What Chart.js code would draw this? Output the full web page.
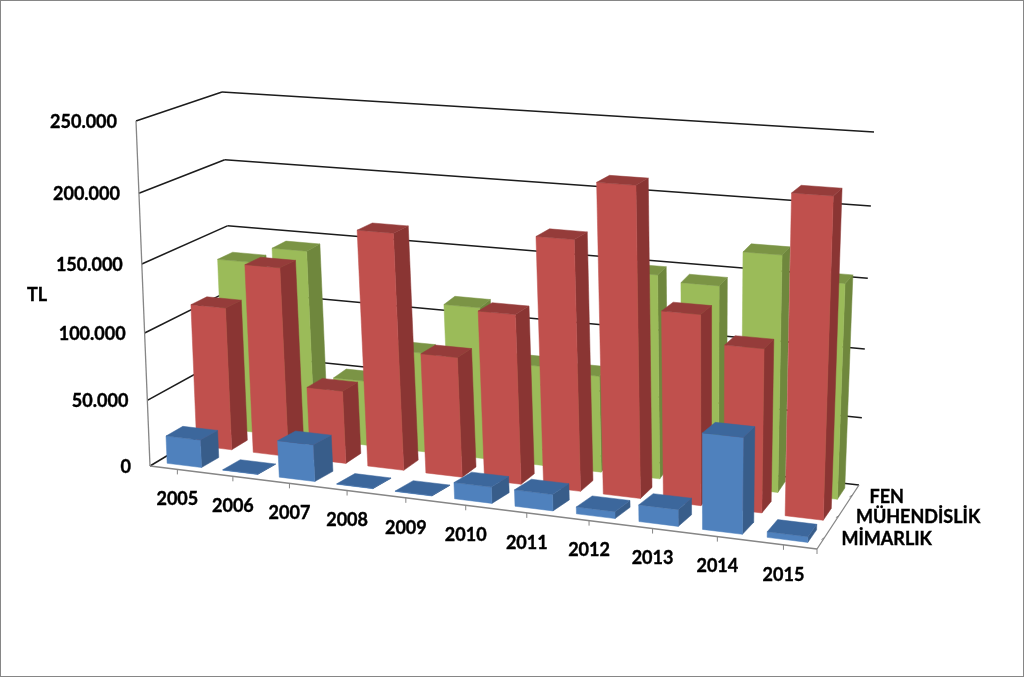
<!DOCTYPE html>
<html>
<head>
<meta charset="utf-8">
<title>TL</title>
<script src="https://cdn.jsdelivr.net/npm/chart.js@4/dist/chart.umd.min.js"></script>
<style>
  html, body { margin: 0; padding: 0; background: #fff; }
  canvas { display: block; }
</style>
</head>
<body>
<canvas id="chart" width="1024" height="677"></canvas>
<script>
const years = ['2005', '2006', '2007', '2008', '2009', '2010', '2011', '2012', '2013', '2014', '2015'];
const seriesNames = ['MİMARLIK', 'MÜHENDİSLİK', 'FEN'];
const mimarlik = [21000, 300, 27500, 300, 300, 12000, 12000, 5000, 12000, 68000, 4000];
const muhendislik = [108500, 142000, 55000, 174000, 89000, 124000, 180000, 220000, 136000, 116500, 222500];
const fen = [132500, 144500, 50000, 76000, 114000, 75000, 72000, 149000, 145000, 170000, 154000];
const axisTitle = 'TL';

// corners of the 3D box on screen: front-left, front-right, back-right, back-left
const floorQuad = [[150, 466], [817, 549], [859, 485], [235, 415]];
const topQuad = [[136, 121], [828, 171], [874, 132], [222, 92]];

const faceColors = [
    { front: '#4f81bd', side: '#385d8a', top: '#3c679c' },
    { front: '#c0504d', side: '#8a3533', top: '#953c3a' },
    { front: '#9bbb59', side: '#6f873d', top: '#7b9445' }
];
const barDepth = 0.56;

function homography(q) {
    const [x0, y0] = q[0], [x1, y1] = q[1], [x2, y2] = q[2], [x3, y3] = q[3];
    const sx = x0 - x1 + x2 - x3, sy = y0 - y1 + y2 - y3;
    const dx1 = x1 - x2, dx2 = x3 - x2, dy1 = y1 - y2, dy2 = y3 - y2;
    const den = dx1 * dy2 - dx2 * dy1;
    const g = (sx * dy2 - dx2 * sy) / den;
    const h = (dx1 * sy - sx * dy1) / den;
    const a = x1 - x0 + g * x1, b = x3 - x0 + h * x3;
    const d = y1 - y0 + g * y1, e = y3 - y0 + h * y3;
    return (u, w) => {
        const k = g * u + h * w + 1;
        return [(a * u + b * w + x0) / k, (d * u + e * w + y0) / k];
    };
}
const floorAt = homography(floorQuad);
const topAt = homography(topQuad);

// u = along years, v = height, w = depth, all 0..1
function project(u, v, w) {
    // small corrections, the quads alone bend a bit too much along u and too little along v
    const uu = u + (0.02 + 0.2 * w - 0.16 * w * w) * u * (1 - u);
    const vv = v - 0.06 * v * (1 - v);
    const f = floorAt(uu, w), t = topAt(uu, w);
    return [f[0] + (t[0] - f[0]) * vv, f[1] + (t[1] - f[1]) * vv];
}

function poly(ctx, pts, color) {
    ctx.fillStyle = color;
    ctx.strokeStyle = color;
    ctx.lineWidth = 0.5;
    ctx.beginPath();
    pts.forEach((p, i) => i ? ctx.lineTo(p[0], p[1]) : ctx.moveTo(p[0], p[1]));
    ctx.closePath();
    ctx.fill();
    ctx.stroke();
}

function line(ctx, a, b, color, width) {
    ctx.strokeStyle = color;
    ctx.lineWidth = width;
    ctx.beginPath();
    ctx.moveTo(a[0], a[1]);
    ctx.lineTo(b[0], b[1]);
    ctx.stroke();
}

function label(ctx, text, x, y) {
    ctx.fillText(text, x, y);
    ctx.strokeText(text, x, y);
}

const box3d = {
    id: 'box3d',
    beforeDatasetsDraw(chart) {
        const { ctx, chartArea: area, scales } = chart;
        const toV = px => (area.bottom - px) / area.height;
        const toU = px => (px - area.left) / area.width;
        ctx.save();
        // walls
        scales.y.ticks.forEach(t => {
            const v = toV(scales.y.getPixelForValue(t.value));
            line(ctx, project(0, v, 0), project(0, v, 1), '#1c1c1c', 1.5);
            line(ctx, project(0, v, 1), project(1, v, 1), '#1c1c1c', 1.5);
        });
        line(ctx, project(0, 0, 0), project(0, 1, 0), '#868686', 1.3);
        // floor edges and ticks
        line(ctx, project(0, 0, 0), project(1, 0, 0), '#868686', 1.3);
        line(ctx, project(1, 0, 0), project(1, 0, 1), '#868686', 1.3);
        years.forEach((y, i) => {
            const p = project(toU(scales.x.getPixelForValue(i)), 0, 0);
            line(ctx, p, [p[0], p[1] + 5], '#868686', 1);
        });
        line(ctx, project(1, 0, 0), [project(1, 0, 0)[0], project(1, 0, 0)[1] + 5], '#868686', 1);
        seriesNames.forEach((s, i) => {
            const p = project(1, 0, toU(scales.z.getPixelForValue(i)));
            line(ctx, p, [p[0] - 3, p[1] + 2], '#868686', 1);
        });
        ctx.restore();
    },
    beforeDatasetDraw(chart, args) {
        const { ctx, chartArea: area, scales } = chart;
        const colors = faceColors[args.index];
        const mid = (scales.z.getPixelForValue(args.index) - area.left) / area.width;
        const cell = 1 / seriesNames.length;
        const w0 = mid - cell * barDepth / 2, w1 = mid + cell * barDepth / 2;
        ctx.save();
        args.meta.data.forEach(bar => {
            const u0 = (bar.x - bar.width / 2 - area.left) / area.width;
            const u1 = (bar.x + bar.width / 2 - area.left) / area.width;
            const v0 = (area.bottom - bar.base) / area.height;
            const v1 = (area.bottom - bar.y) / area.height;
            poly(ctx, [project(u1, v0, w0), project(u1, v0, w1), project(u1, v1, w1), project(u1, v1, w0)], colors.side);
            poly(ctx, [project(u0, v0, w0), project(u1, v0, w0), project(u1, v1, w0), project(u0, v1, w0)], colors.front);
            poly(ctx, [project(u0, v1, w0), project(u1, v1, w0), project(u1, v1, w1), project(u0, v1, w1)], colors.top);
        });
        ctx.restore();
        return false;
    },
    afterDraw(chart) {
        const { ctx, chartArea: area, scales, width, height } = chart;
        ctx.save();
        ctx.fillStyle = '#000';
        ctx.strokeStyle = '#000';
        ctx.lineWidth = 0.4;
        ctx.font = 'bold 18px Lato';
        ctx.textBaseline = 'middle';
        // value labels
        ctx.textAlign = 'right';
        scales.y.ticks.forEach(t => {
            const v = (area.bottom - scales.y.getPixelForValue(t.value)) / area.height;
            const p = project(0, v, 0);
            label(ctx, t.value.toLocaleString('de-DE'), p[0] - 19, p[1] + 1);
        });
        // year labels
        ctx.textAlign = 'center';
        years.forEach((y, i) => {
            const p = project((scales.x.getPixelForValue(i) - area.left) / area.width, 0, 0);
            label(ctx, y, p[0], p[1] + 30);
        });
        // series labels
        ctx.textAlign = 'left';
        seriesNames.forEach((s, i) => {
            const p = project(1, 0, (scales.z.getPixelForValue(i) - area.left) / area.width);
            label(ctx, s, p[0] + 17, p[1] + 2);
        });
        ctx.textAlign = 'center';
        label(ctx, axisTitle, 37, 295);
        ctx.strokeStyle = '#868686';
        ctx.lineWidth = 1;
        ctx.strokeRect(0.5, 0.5, width - 1, height - 1);
        ctx.restore();
    }
};

new Chart(document.getElementById('chart'), {
    type: 'bar',
    data: {
        labels: years,
        datasets: [
            { label: seriesNames[0], data: mimarlik },
            { label: seriesNames[1], data: muhendislik },
            { label: seriesNames[2], data: fen }
        ]
    },
    options: {
        responsive: false,
        animation: false,
        layout: { padding: 0 },
        datasets: { bar: { grouped: false, barPercentage: 0.62, categoryPercentage: 1 } },
        plugins: { legend: { display: false }, tooltip: { enabled: false } },
        scales: {
            x: { display: false, offset: true },
            y: { display: false, min: 0, max: 250000, ticks: { stepSize: 50000 } },
            z: { type: 'category', axis: 'x', display: false, offset: true, labels: seriesNames }
        }
    },
    plugins: [box3d]
});
</script>
</body>
</html>
